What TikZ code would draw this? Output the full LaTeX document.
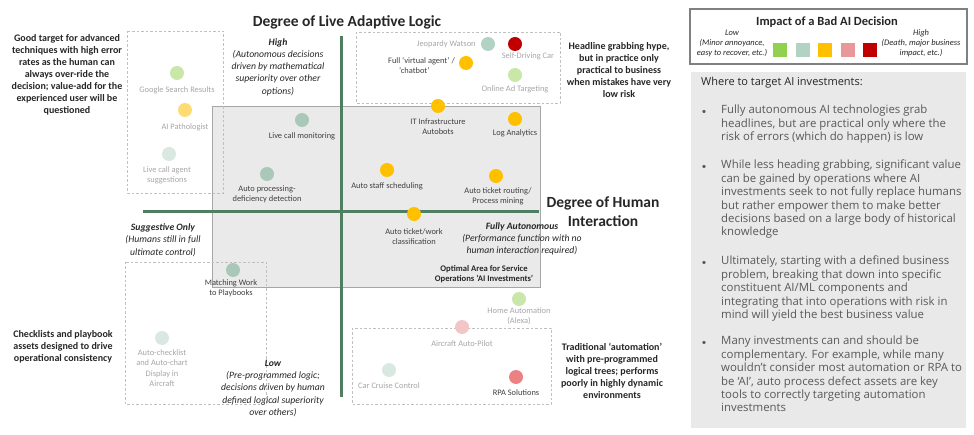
\documentclass[tikz,border=0pt]{standalone}
\usepackage{fontspec}
\setmainfont{Carlito}
\newfontfamily\panelfont{Open Sans}
\usetikzlibrary{positioning}
\definecolor{txtdark}{HTML}{404040}
\definecolor{txtfade}{HTML}{A6A6A6}
\definecolor{notecol}{HTML}{262626}
\definecolor{zonecol}{HTML}{BFBFBF}
\definecolor{boxfill}{HTML}{EAEAEA}
\definecolor{boxline}{HTML}{A6A6A6}
\definecolor{panelfill}{HTML}{E9E9E9}
\definecolor{paneltxt}{HTML}{595959}
\definecolor{axiscol}{HTML}{4F7F63}
\definecolor{riskA}{HTML}{92D050}
\definecolor{riskB}{HTML}{B2D3C3}
\definecolor{riskC}{HTML}{FFC000}
\definecolor{riskD}{HTML}{E8989A}
\definecolor{riskE}{HTML}{C00000}
\begin{document}
\begin{tikzpicture}[x=1pt,y=-1pt,
  dot/.style={circle,minimum size=14pt,inner sep=0pt},
  lbl/.style={font=\fontsize{8.4}{10.2}\selectfont,text=txtdark,align=center,inner sep=0pt},
  fadelbl/.style={lbl,text=txtfade},
  note/.style={font=\bfseries\fontsize{10}{12}\selectfont,text=notecol,align=center,inner sep=0pt},
  axislbl/.style={font=\itshape\fontsize{9.7}{12.3}\selectfont,text=notecol,align=center,inner sep=0pt},
  heading/.style={font=\bfseries\fontsize{15.5}{19}\selectfont,text=notecol,align=center,inner sep=0pt},
  zone/.style={draw=zonecol,dash pattern=on 2.5pt off 2pt,line width=0.6pt},
  axis/.style={draw=axiscol,line width=3pt},
  swatch/.style={minimum size=14pt,inner sep=0pt},
  keytxt/.style={font=\itshape\fontsize{8.5}{10}\selectfont,text=notecol,align=center,inner sep=0pt},
  bullettxt/.style={font=\panelfont\fontsize{11.4}{13.4}\selectfont,text=paneltxt,align=left,inner sep=0pt,anchor=north west}]
\useasboundingbox (0,0) rectangle (974,435);

% optimal area and the dashed zones
\draw[fill=boxfill,draw=boxline,line width=1pt] (212,107) rectangle (540,288);
\draw[zone] (127,31) rectangle (223,193)
            (356,32) rectangle (560,103)
            (125,262) rectangle (266,404)
            (352,328) rectangle (551,404);

% axes
\coordinate (vtop) at (341,36);
\coordinate (vbot) at (341,397);
\coordinate (hleft) at (143,212);
\coordinate (hright) at (539,212);
\draw[axis] (vtop) -- (vbot);
\draw[axis] (hleft) -- (hright);

\node[heading] (ytitle) at (347,22) {Degree of Live Adaptive Logic};
\node[heading] (xtitle) at (603,211.5) {Degree of Human\\Interaction};

\node[axislbl] (high) at (278,67) {\textbf{High}\\(Autonomous decisions\\driven by mathematical\\superiority over other\\options)};
\node[axislbl] (suggest) at (163,240) {\textbf{Suggestive Only}\\(Humans still in full\\ultimate control)};
\node[axislbl] (low) at (273,388.5) {\textbf{Low}\\(Pre-programmed logic;\\decisions driven by human\\defined logical superiority\\over others)};
\node[axislbl] (fullauto) at (522,239) {\textbf{Fully Autonomous}\\(Performance function with no\\human interaction required)};
\node[note,font=\bfseries\fontsize{8.6}{10}\selectfont] (optimal) at (484,274) {Optimal Area for Service\\Operations ‘AI Investments’};

% side notes
\node[note] (goodnote) at (67,75) {Good target for advanced\\techniques with high error\\rates as the human can\\always over-ride the\\decision; value-add for the\\experienced user will be\\questioned};
\node[note] (hypenote) at (619,70) {Headline grabbing hype,\\but in practice only\\practical to business\\when mistakes have very\\low risk};
\node[note] (checknote) at (63,347) {Checklists and playbook\\assets designed to drive\\operational consistency};
\node[note] (tradnote) at (612,371) {Traditional ‘automation’\\with pre-programmed\\logical trees; performs\\poorly in highly dynamic\\environments};

% top left zone
\node[dot,fill=riskA!50] (gsdot) at (177,73) {};
\node[fadelbl,below=6pt of gsdot] (gslbl) {Google Search Results};
\node[dot,fill=riskC!55] (apdot) at (185,110) {};
\node[fadelbl,below=6pt of apdot] (aplbl) {AI Pathologist};
\node[dot,fill=riskB!50] (lcadot) at (169,154) {};
\node[fadelbl,below=5.5pt of lcadot,xshift=-2pt] (lcalbl) {Live call agent\\suggestions};

% top right zone
\node[dot,fill=riskB] (jwdot) at (488,44) {};
\node[fadelbl,left=5pt of jwdot] (jwlbl) {Jeopardy Watson};
\node[dot,fill=riskE] (sddot) at (515,44) {};
\node[fadelbl] (sdlbl) at (528,56) {Self-Driving Car};
\node[dot,fill=riskC] (vadot) at (466,63) {};
\node[lbl,align=left,anchor=north east] (valbl) at (455,57.5) {Full ‘virtual agent’ /\\\hspace*{11pt}‘chatbot’};
\node[dot,fill=riskA!50] (oadot) at (515,75) {};
\node[fadelbl,below=3pt of oadot] (oalbl) {Online Ad Targeting};

% optimal area
\node[dot,fill=riskB!95!black] (lcmdot) at (302,120) {};
\node[lbl,below=5.5pt of lcmdot] (lcmlbl) {Live call monitoring};
\node[dot,fill=riskB!95!black] (apddot) at (267,174) {};
\node[lbl,below=4pt of apddot] (apdlbl) {Auto processing-\\deficiency detection};
\node[dot,fill=riskC] (itdot) at (438,106) {};
\node[lbl,below=5.5pt of itdot] (itlbl) {IT Infrastructure\\Autobots};
\node[dot,fill=riskC] (ladot) at (515,119) {};
\node[lbl,below=3pt of ladot] (lalbl) {Log Analytics};
\node[dot,fill=riskC] (asdot) at (387,170) {};
\node[lbl,below=5.5pt of asdot] (aslbl) {Auto staff scheduling};
\node[dot,fill=riskC] (atrdot) at (496,176) {};
\node[lbl,below=4.5pt of atrdot,xshift=2pt] (atrlbl) {Auto ticket routing/\\Process mining};
\node[dot,fill=riskC] (atwdot) at (414,214) {};
\node[lbl,below=7.5pt of atwdot] (atwlbl) {Auto ticket/work\\classification};
\node[dot,fill=riskB!95!black] (mwdot) at (233,270) {};
\node[lbl,below=2pt of mwdot,xshift=-2pt] (mwlbl) {Matching Work\\to Playbooks};

% bottom zones
\node[dot,fill=riskB!50] (acdot) at (162,338) {};
\node[fadelbl,below=4.5pt of acdot] (aclbl) {Auto-checklist\\and Auto-chart\\Display in\\Aircraft};
\node[dot,fill=riskA!50] (hadot) at (519,299) {};
\node[fadelbl,below=1pt of hadot] (halbl) {Home Automation\\(Alexa)};
\node[dot,fill=riskD!55] (aadot) at (462,327) {};
\node[fadelbl,below=6.5pt of aadot] (aalbl) {Aircraft Auto-Pilot};
\node[dot,fill=riskB!50] (ccdot) at (389,370) {};
\node[fadelbl,below=5.5pt of ccdot] (cclbl) {Car Cruise Control};
\node[dot,fill=riskD!85!red] (rpadot) at (516,377) {};
\node[lbl,below=5.5pt of rpadot] (rpalbl) {RPA Solutions};

% legend
\draw[draw=gray,line width=1.2pt,fill=white] (690,9) rectangle (967,64);
\node[note,font=\bfseries\fontsize{12.5}{15}\selectfont] (keytitle) at (827,22) {Impact of a Bad AI Decision};
\node[keytxt] (keylow) at (732,43) {Low\\(Minor annoyance,\\easy to recover, etc.)};
\node[keytxt] (keyhigh) at (921,43) {High\\(Death, major business\\impact, etc.)};
\foreach \c [count=\i] in {riskA,riskB,riskC,riskD,riskE}
  \node[swatch,fill=\c] (key\i) at (757.5+22.5*\i,50) {};

% right panel
\fill[panelfill] (691,72) rectangle (966,428);
\node[font=\panelfont\fontsize{11}{14}\selectfont,text=notecol,anchor=west,inner sep=0pt] (panelhead) at (701,83) {Where to target AI investments:};
\foreach \yy in {112,167,263,343}
  \node[text=paneltxt,font=\fontsize{9}{9}\selectfont,inner sep=0pt] at (704,\yy) {\textbullet};
\node[bullettxt] (bulletA) at (721,105) {Fully autonomous AI technologies grab\\headlines, but are practical only where the\\risk of errors (which do happen) is low};
\node[bullettxt] (bulletB) at (721,160) {While less heading grabbing, significant value\\can be gained by operations where AI\\investments seek to not fully replace humans\\but rather empower them to make better\\decisions based on a large body of historical\\knowledge};
\node[bullettxt] (bulletC) at (721,256) {Ultimately, starting with a defined business\\problem, breaking that down into specific\\constituent AI/ML components and\\integrating that into operations with risk in\\mind will yield the best business value};
\node[bullettxt] (bulletD) at (721,336) {Many investments can and should be\\complementary. For example, while many\\wouldn’t consider most automation or RPA to\\be ‘AI’, auto process defect assets are key\\tools to correctly targeting automation\\investments};
\end{tikzpicture}
\end{document}
